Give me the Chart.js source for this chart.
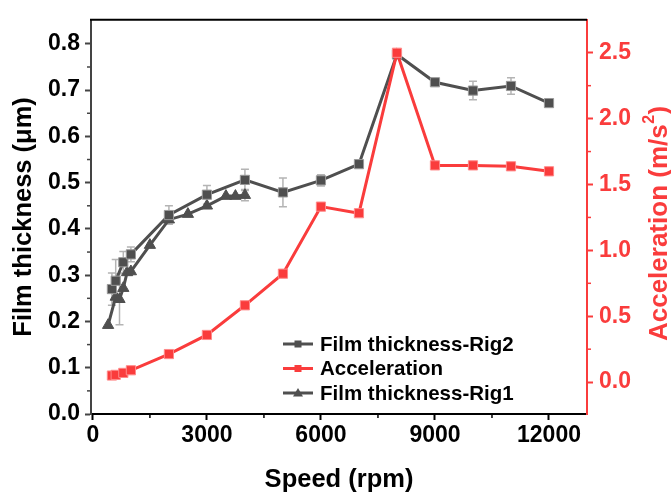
<!DOCTYPE html>
<html>
<head>
<meta charset="utf-8">
<script src="https://cdn.jsdelivr.net/npm/chart.js@4.4.1/dist/chart.umd.min.js"></script>
<style>
  html, body { margin: 0; padding: 0; background: #fff; }
  #wrap { width: 671px; height: 492px; }
</style>
</head>
<body>
<div id="wrap"><canvas id="chart" width="671" height="492"></canvas></div>
<script>
// values
const rig2Speed = [500, 600, 800, 1000, 2000, 3000, 4000, 5000, 6000, 7000, 8000, 9000, 10000, 11000, 12000];
const rig2Thickness = [0.270, 0.288, 0.328, 0.345, 0.430, 0.474, 0.506, 0.479, 0.505, 0.540, 0.777, 0.717, 0.699, 0.709, 0.672];
const rig2Error = [0.035, 0.046, 0.023, 0.016, 0.020, 0.020, 0.023, 0.031, 0.012, 0, 0, 0, 0.020, 0.018, 0];

const accelSpeed = [500, 600, 800, 1000, 2000, 3000, 4000, 5000, 6000, 7000, 8000, 9000, 10000, 11000, 12000];
const accel = [0.05, 0.055, 0.07, 0.09, 0.213, 0.358, 0.583, 0.823, 1.332, 1.282, 2.50, 1.645, 1.645, 1.638, 1.60];

const rig1Speed = [400, 600, 700, 800, 900, 1000, 1500, 2000, 2500, 3000, 3500, 3750, 4000];
const rig1Thickness = [0.192, 0.253, 0.248, 0.272, 0.306, 0.308, 0.365, 0.420, 0.432, 0.450, 0.471, 0.471, 0.473];
const rig1Error = [0, 0, 0.055, 0, 0, 0, 0, 0, 0, 0, 0, 0, 0.012];

const speedTicks = [0, 3000, 6000, 9000, 12000];
const thicknessTicks = [0, 0.1, 0.2, 0.3, 0.4, 0.5, 0.6, 0.7, 0.8];
const accelTicks = [0, 0.5, 1.0, 1.5, 2.0, 2.5];

const GRAY = '#4f4f4f';
const RED = '#fa3c3c';
const FONT = "'Liberation Sans', Arial, sans-serif";

const pts = (xs, ys) => xs.map((x, i) => ({ x, y: ys[i] }));

// vertical error bars, drawn under the markers
const errorBars = {
  id: 'errorBars',
  beforeDatasetsDraw(chart) {
    const ctx = chart.ctx;
    ctx.save();
    ctx.strokeStyle = '#b4b4b4';
    ctx.lineWidth = 1.5;
    chart.data.datasets.forEach((ds) => {
      if (!ds.errors) return;
      const xs = chart.scales.x;
      const ys = chart.scales[ds.yAxisID];
      ds.data.forEach((p, i) => {
        const e = ds.errors[i];
        if (!e) return;
        const px = xs.getPixelForValue(p.x);
        const top = ys.getPixelForValue(p.y + e);
        const bot = ys.getPixelForValue(p.y - e);
        ctx.beginPath();
        ctx.moveTo(px, top); ctx.lineTo(px, bot);
        ctx.moveTo(px - 4, top); ctx.lineTo(px + 4, top);
        ctx.moveTo(px - 4, bot); ctx.lineTo(px + 4, bot);
        ctx.stroke();
      });
    });
    ctx.restore();
  }
};

// minor ticks, top frame line, right title, legend
const decorations = {
  id: 'decorations',
  afterDraw(chart) {
    const ctx = chart.ctx;
    const a = chart.chartArea;
    const { x, yT, yA } = chart.scales;
    ctx.save();

    ctx.lineWidth = 2;
    ctx.strokeStyle = '#000';
    ctx.beginPath();
    ctx.moveTo(a.left - 1, a.top); ctx.lineTo(a.right, a.top);
    ctx.stroke();

    // minor ticks
    ctx.lineWidth = 1.5;
    ctx.strokeStyle = '#000';
    for (let v = 1500; v < x.max; v += 3000) {
      const px = x.getPixelForValue(v);
      ctx.beginPath(); ctx.moveTo(px, a.bottom); ctx.lineTo(px, a.bottom + 4); ctx.stroke();
    }
    ctx.strokeStyle = '#444';
    for (let v = 0.05; v < 0.8; v += 0.1) {
      const py = yT.getPixelForValue(v);
      ctx.beginPath(); ctx.moveTo(a.left, py); ctx.lineTo(a.left - 4, py); ctx.stroke();
    }
    ctx.strokeStyle = RED;
    for (let v = 0.25; v < 2.5; v += 0.5) {
      const py = yA.getPixelForValue(v);
      ctx.beginPath(); ctx.moveTo(a.right, py); ctx.lineTo(a.right + 4, py); ctx.stroke();
    }

    // right axis title, reading bottom to top, with superscript
    ctx.fillStyle = RED;
    ctx.textBaseline = 'middle';
    ctx.textAlign = 'left';
    const big = 'bold 26px ' + FONT;
    const small = 'bold 16px ' + FONT;
    const p1 = 'Acceleration (m/s', p2 = '2', p3 = ')';
    ctx.font = big;
    const w1 = ctx.measureText(p1).width, w3 = ctx.measureText(p3).width;
    ctx.font = small;
    const w2 = ctx.measureText(p2).width;
    const total = w1 + w2 + w3;
    ctx.translate(660, (a.top + a.bottom) / 2 + 7);
    ctx.rotate(-Math.PI / 2);
    ctx.font = big;
    ctx.fillText(p1, -total / 2, 0);
    ctx.font = small;
    ctx.fillText(p2, -total / 2 + w1 + 0.5, -10);
    ctx.font = big;
    ctx.fillText(p3, -total / 2 + w1 + w2 + 1, 0);
    ctx.setTransform(1, 0, 0, 1, 0, 0);

    // legend
    const rows = [
      { label: 'Film thickness-Rig2', color: GRAY, marker: 'rect' },
      { label: 'Acceleration', color: RED, marker: 'rect' },
      { label: 'Film thickness-Rig1', color: GRAY, marker: 'triangle' }
    ];
    ctx.font = 'bold 20.5px ' + FONT;
    ctx.textBaseline = 'middle';
    rows.forEach((r, i) => {
      const ly = 344 + i * 24.5;
      ctx.strokeStyle = r.color;
      ctx.lineWidth = 3;
      ctx.beginPath(); ctx.moveTo(283, ly); ctx.lineTo(313, ly); ctx.stroke();
      ctx.fillStyle = r.color;
      if (r.marker === 'rect') {
        ctx.fillRect(294.5, ly - 3.5, 7, 7);
      } else {
        ctx.beginPath();
        ctx.moveTo(298, ly - 5); ctx.lineTo(303, ly + 3.5); ctx.lineTo(293, ly + 3.5);
        ctx.closePath(); ctx.fill();
      }
      ctx.fillStyle = '#000';
      ctx.fillText(r.label, 320, ly + 1);
    });
    ctx.restore();
  }
};

const tickFont = { family: FONT, size: 23, weight: 'bold' };
const titleFont = { family: FONT, size: 25.5, weight: 'bold', lineHeight: 1 };

new Chart(document.getElementById('chart'), {
  type: 'line',
  data: {
    datasets: [
      {
        label: 'Acceleration',
        data: pts(accelSpeed, accel),
        yAxisID: 'yA',
        order: 0,
        borderColor: RED,
        backgroundColor: RED,
        borderWidth: 3,
        pointStyle: 'rect',
        pointRadius: 6.5,
        pointBorderColor: '#ff8a8a',
        pointBorderWidth: 1,
        tension: 0
      },
      {
        label: 'Film thickness-Rig2',
        data: pts(rig2Speed, rig2Thickness),
        errors: rig2Error,
        yAxisID: 'yT',
        order: 1,
        borderColor: GRAY,
        backgroundColor: GRAY,
        borderWidth: 3,
        pointStyle: 'rect',
        pointRadius: 6.5,
        pointBorderColor: '#9a9a9a',
        pointBorderWidth: 1,
        tension: 0
      },
      {
        label: 'Film thickness-Rig1',
        data: pts(rig1Speed, rig1Thickness),
        errors: rig1Error,
        yAxisID: 'yT',
        order: 2,
        borderColor: GRAY,
        backgroundColor: GRAY,
        borderWidth: 3,
        pointStyle: 'triangle',
        pointRadius: 6.5,
        pointBorderColor: GRAY,
        pointBorderWidth: 1,
        tension: 0
      }
    ]
  },
  options: {
    responsive: false,
    animation: false,
    layout: { padding: { top: 15, left: 0, right: 0, bottom: 0 } },
    plugins: { legend: { display: false }, tooltip: { enabled: false } },
    scales: {
      x: {
        type: 'linear',
        min: -50,
        max: 13000,
        afterBuildTicks: (s) => { s.ticks = speedTicks.map((v) => ({ value: v })); },
        afterFit: (s) => { s.height = 78; },
        ticks: { font: tickFont, color: '#000', padding: 2, maxRotation: 0, callback: (v) => String(v) },
        grid: { drawOnChartArea: false, tickLength: 6, tickColor: '#000', tickWidth: 2 },
        border: { color: '#000', width: 2 },
        title: { display: true, text: 'Speed (rpm)', font: titleFont, color: '#000', padding: { top: 0, bottom: -1 } }
      },
      yT: {
        type: 'linear',
        position: 'left',
        min: 0,
        max: 0.852,
        afterBuildTicks: (s) => { s.ticks = thicknessTicks.map((v) => ({ value: v })); },
        afterFit: (s) => { s.width = 91; },
        ticks: { font: tickFont, color: '#000', padding: 5, callback: (v) => v.toFixed(1) },
        grid: { drawOnChartArea: false, tickLength: 6, tickColor: '#444', tickWidth: 2 },
        border: { color: '#444', width: 2 },
        title: { display: true, text: 'Film thickness (\u03bcm)', font: titleFont, color: '#000', padding: { top: 11, bottom: 0 } }
      },
      yA: {
        type: 'linear',
        position: 'right',
        min: -0.242,
        max: 2.75,
        afterBuildTicks: (s) => { s.ticks = accelTicks.map((v) => ({ value: v })); },
        afterFit: (s) => { s.width = 84; },
        ticks: { font: tickFont, color: RED, padding: 6, callback: (v) => v.toFixed(1) },
        grid: { drawOnChartArea: false, tickLength: 6, tickColor: RED, tickWidth: 2 },
        border: { color: RED, width: 2 }
      }
    }
  },
  plugins: [errorBars, decorations]
});
</script>
</body>
</html>
